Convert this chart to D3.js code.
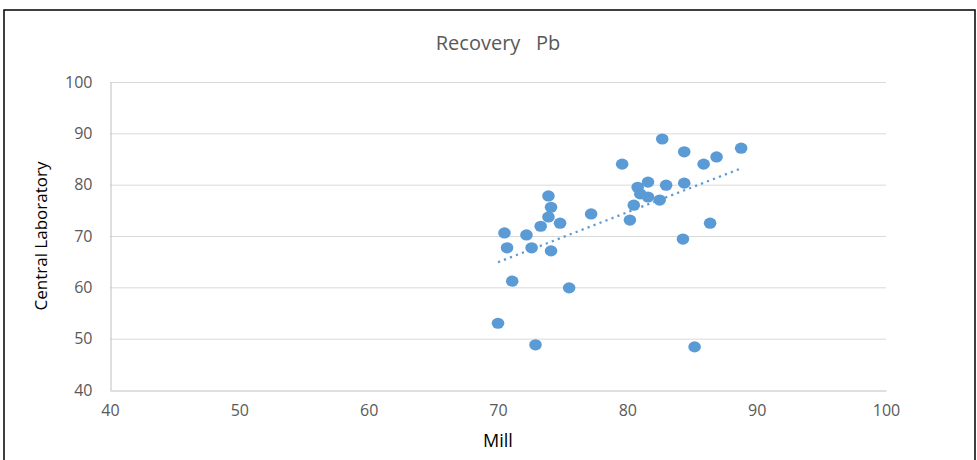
<!DOCTYPE html>
<html><head><meta charset="utf-8">
<script src="https://cdn.jsdelivr.net/npm/d3@7"></script>
<style>body{margin:0;background:#fff}svg{display:block}</style>
</head><body>
<svg id="c" width="977" height="460"></svg>
<script>
const millValues = [70.5,70.7,71.1,70.0,72.2,72.6,72.9,73.3,73.9,74.1,73.9,74.1,74.8,75.5,77.2,79.6,80.2,80.5,80.8,81.0,81.6,81.6,82.5,82.7,83.0,84.4,84.4,84.3,85.2,85.9,86.4,86.9,88.8];
const labValues  = [70.6,67.7,61.2,53.0,70.2,67.7,48.8,71.9,77.8,75.6,73.7,67.1,72.5,59.9,74.3,84.0,73.1,76.0,79.5,78.2,80.5,77.6,77.0,88.9,79.9,86.4,80.3,69.4,48.4,84.0,72.5,85.4,87.1];
const xTicks = [40,50,60,70,80,90,100];
const yTicks = [40,50,60,70,80,90,100];
const titleText = "Recovery   Pb";
const xTitle = "Mill";
const yTitle = "Central Laboratory";

const svg = d3.select("#c");
const font = "'Open Sans',sans-serif";
const L=110,R=886,T=82,B=390;
const x = d3.scaleLinear().domain([40,100]).range([L,R]);
const y = d3.scaleLinear().domain([40,100]).range([B,T]);

// outer frame
svg.append("rect").attr("x",4).attr("y",10).attr("width",971).attr("height",470)
  .attr("fill","none").attr("stroke","#000").attr("stroke-width",1.5);

// gridlines
svg.append("g").selectAll("line").data(yTicks.filter(d=>d>40)).join("line")
  .attr("x1",L).attr("x2",R).attr("y1",d=>y(d)+0.5).attr("y2",d=>y(d)+0.5)
  .attr("stroke","#d9d9d9").attr("stroke-width",1);

// axes
const xa = svg.append("g").attr("transform",`translate(0,${B+0.5})`)
  .call(d3.axisBottom(x).tickValues(xTicks).tickSize(0).tickPadding(14));
const ya = svg.append("g").attr("transform",`translate(${L+0.5},0)`)
  .call(d3.axisLeft(y).tickValues(yTicks).tickSize(0).tickPadding(18));
[xa,ya].forEach(a=>{
  a.select(".domain").attr("stroke","#bfbfbf").attr("stroke-width",1);
  a.selectAll("text").attr("font-family",font).attr("font-size",16).attr("fill","#595959");
});

// trendline (least squares)
const n = millValues.length;
const mx = d3.mean(millValues), my = d3.mean(labValues);
let sxy=0,sxx=0;
for(let i=0;i<n;i++){sxy+=(millValues[i]-mx)*(labValues[i]-my);sxx+=(millValues[i]-mx)**2;}
const slope=sxy/sxx, icpt=my-slope*mx;
const x0=d3.min(millValues), x1=d3.max(millValues);
svg.append("line").attr("x1",x(x0)).attr("y1",y(icpt+slope*x0))
  .attr("x2",x(x1)).attr("y2",y(icpt+slope*x1))
  .attr("stroke","#5b9bd5").attr("stroke-width",2.25)
  .attr("stroke-dasharray","2.2,4.2");

// points
svg.append("g").selectAll("ellipse").data(millValues.map((d,i)=>[d,labValues[i]])).join("ellipse")
  .attr("cx",d=>x(d[0])).attr("cy",d=>y(d[1])).attr("rx",6.3).attr("ry",5.6)
  .attr("fill","#5b9bd5");

// titles
svg.append("text").attr("x",498).attr("y",50).attr("text-anchor","middle")
  .attr("xml:space","preserve")
  .attr("font-family",font).attr("font-size",20).attr("fill","#595959")
  .text(titleText);
svg.append("text").attr("x",498).attr("y",447).attr("text-anchor","middle")
  .attr("font-family",font).attr("font-size",18).attr("fill","#000").text(xTitle);
svg.append("text").attr("transform",`translate(47,${(T+B)/2}) rotate(-90)`).attr("text-anchor","middle")
  .attr("font-family",font).attr("font-size",17).attr("fill","#000").text(yTitle);
</script>
</body></html>
